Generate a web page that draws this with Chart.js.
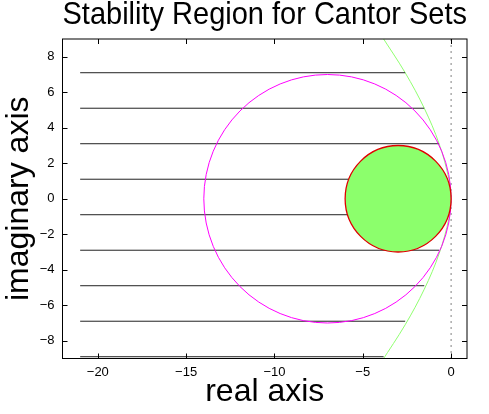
<!DOCTYPE html>
<html>
<head>
<meta charset="utf-8">
<script src="https://cdn.jsdelivr.net/npm/chart.js@4.4.1/dist/chart.umd.min.js"></script>
<style>
  html, body { margin: 0; padding: 0; background: #fff; }
  canvas { display: block; }
</style>
</head>
<body>
<canvas id="stabChart" width="489" height="414"></canvas>
<script>
// Axis ticks
const xTicks = [-20, -15, -10, -5, 0];
const yTicks = [-8, -6, -4, -2, 0, 2, 4, 6, 8];

// Horizontal strips: imaginary level, real start, real end
const stripY = [7.1, 5.1, 3.1, 1.1, -0.9, -2.9, -4.9, -6.9, -8.9];
const stripStart = -21;
const stripEnd = [-2.6, -1.52, -0.68, -0.2, -0.15, -0.68, -1.52, -2.6, -3.82];

// Light green boundary curve
const boundaryX = [-3.95, -2.6, -1.52, -0.68, -0.12, 0, -0.12, -0.68, -1.52, -2.6, -3.95];
const boundaryY = [9.2, 7.1, 5.1, 3.1, 1.1, 0, -1.1, -3.1, -5.1, -7.1, -9.2];

// Circles (center on real axis, radius)
const circleCenters = [-7, -3];
const circleRadii = [7, 3];

// Dotted imaginary axis
const dottedX = 0;

const FONT = "'Liberation Sans', Arial, Helvetica, sans-serif";
Chart.defaults.font.family = FONT;
Chart.defaults.color = "#000";

const fmt = v => v < 0 ? "\u2212" + Math.abs(v) : String(v);

// ==========================
// Datasets
// ==========================
const datasets = [];

stripY.forEach((y, i) => {
    datasets.push({
        data: [{ x: stripStart, y: y }, { x: stripEnd[i], y: y }],
        borderColor: "#222",
        borderWidth: 1
    });
});

datasets.push({
    data: boundaryX.map((x, i) => ({ x: x, y: boundaryY[i] })),
    borderColor: "#90ff70",
    borderWidth: 1,
    tension: 0.35
});

datasets.push({
    data: [{ x: dottedX, y: -9 }, { x: dottedX, y: 9 }],
    borderColor: "#000",
    borderWidth: 1,
    borderDash: [1, 5]
});

// circles drawn through the scales
const circlePlugin = {
    id: "circles",
    afterDatasetsDraw(chart) {
        const { ctx, chartArea, scales: { x, y } } = chart;
        ctx.save();
        ctx.beginPath();
        ctx.rect(chartArea.left, chartArea.top, chartArea.right - chartArea.left, chartArea.bottom - chartArea.top);
        ctx.clip();

        // big magenta circle
        let cx = x.getPixelForValue(circleCenters[0]);
        let cy = y.getPixelForValue(0);
        let rx = Math.abs(x.getPixelForValue(circleCenters[0] + circleRadii[0]) - cx);
        let ry = Math.abs(y.getPixelForValue(circleRadii[0]) - cy);
        ctx.beginPath();
        ctx.ellipse(cx, cy, rx, ry, 0, 0, Math.PI * 2);
        ctx.strokeStyle = "#ff00ff";
        ctx.lineWidth = 1;
        ctx.stroke();

        // filled green circle with red edge
        cx = x.getPixelForValue(circleCenters[1]);
        rx = Math.abs(x.getPixelForValue(circleCenters[1] + circleRadii[1]) - cx);
        ry = Math.abs(y.getPixelForValue(circleRadii[1]) - cy);
        ctx.beginPath();
        ctx.ellipse(cx, cy, rx, ry, 0, 0, Math.PI * 2);
        ctx.fillStyle = "#8cff6c";
        ctx.fill();
        ctx.strokeStyle = "#e00000";
        ctx.lineWidth = 1.3;
        ctx.stroke();
        ctx.restore();
    },
    afterDraw(chart) {
        // box with inward ticks on all four sides
        const { ctx, chartArea: a, scales: { x, y } } = chart;
        ctx.save();
        ctx.strokeStyle = "#000";
        ctx.lineWidth = 1;
        ctx.strokeRect(a.left, a.top, a.right - a.left, a.bottom - a.top);
        ctx.beginPath();
        xTicks.forEach(v => {
            const px = Math.round(x.getPixelForValue(v)) + 0.5;
            ctx.moveTo(px, a.bottom); ctx.lineTo(px, a.bottom - 5);
            ctx.moveTo(px, a.top); ctx.lineTo(px, a.top + 5);
        });
        yTicks.forEach(v => {
            const py = Math.round(y.getPixelForValue(v)) + 0.5;
            ctx.moveTo(a.left, py); ctx.lineTo(a.left + 5, py);
            ctx.moveTo(a.right, py); ctx.lineTo(a.right - 5, py);
        });
        ctx.stroke();
        ctx.restore();
    }
};

new Chart(document.getElementById("stabChart"), {
    type: "scatter",
    data: { datasets: datasets },
    options: {
        responsive: false,
        animation: false,
        layout: { padding: { left: 0, right: 22, top: 0, bottom: 0 } },
        elements: {
            point: { radius: 0, hoverRadius: 0 },
            line: { fill: false }
        },
        datasets: { scatter: { showLine: true } },
        plugins: {
            legend: { display: false },
            tooltip: { enabled: false },
            title: {
                display: true,
                fullSize: false,
                text: "Stability Region for Cantor Sets",
                font: { size: 32, weight: "normal", lineHeight: 0.95 },
                padding: { top: 0, bottom: 8.6 },
                color: "#000"
            }
        },
        scales: {
            x: {
                type: "linear",
                min: -22,
                max: 0.9,
                grid: { display: false, drawTicks: false },
                border: { display: false },
                afterBuildTicks: s => { s.ticks = xTicks.map(v => ({ value: v })); },
                afterFit: s => { s.height = 55.5; },
                ticks: {
                    autoSkip: false,
                    maxRotation: 0,
                    padding: 6,
                    font: { size: 13 },
                    callback: v => fmt(v)
                },
                title: {
                    display: true,
                    text: "real axis",
                    font: { size: 32, lineHeight: 1 },
                    padding: { top: 0, bottom: 6 }
                }
            },
            y: {
                type: "linear",
                min: -9,
                max: 9,
                grid: { display: false, drawTicks: false },
                border: { display: false },
                afterBuildTicks: s => { s.ticks = yTicks.map(v => ({ value: v })); },
                afterFit: s => { s.width = 62.5; },
                ticks: {
                    autoSkip: false,
                    padding: 8,
                    font: { size: 13 },
                    callback: v => fmt(v)
                },
                title: {
                    display: true,
                    text: "imaginary axis",
                    font: { size: 32, lineHeight: 1 },
                    padding: { top: 3.5, bottom: 0 }
                }
            }
        }
    },
    plugins: [circlePlugin]
});
</script>
</body>
</html>
